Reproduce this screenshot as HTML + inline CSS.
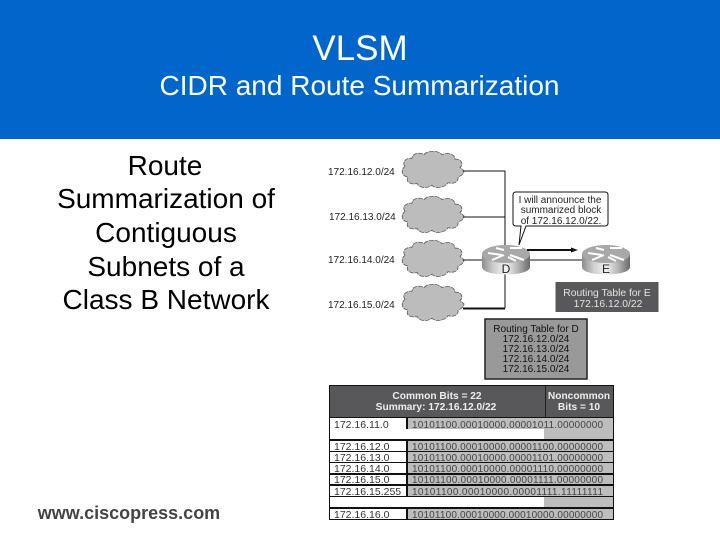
<!DOCTYPE html>
<html><head><meta charset="utf-8"><style>
html,body{margin:0;padding:0;background:#fff}
svg{display:block}
text{font-family:"Liberation Sans",Arial,sans-serif}
</style></head><body>
<svg width="720" height="540" viewBox="0 0 720 540" xmlns="http://www.w3.org/2000/svg">
<defs>
<linearGradient id="rg" x1="0" x2="1" y1="0" y2="0">
<stop offset="0" stop-color="#8d8d8d"/><stop offset=".25" stop-color="#d0d0d0"/><stop offset=".5" stop-color="#f2f2f2"/><stop offset=".75" stop-color="#b5b5b5"/><stop offset="1" stop-color="#6a6a6a"/>
</linearGradient>
<path id="cl" d="M-28,-4 C-32,-10 -25,-14 -21,-13 C-21,-19 -12,-20 -9,-17 C-6,-22 6,-22 9,-17 C14,-20 22,-18 22,-12 C28,-13 31,-6 27,-3 L31,1 C31,5 27,7 25,8 C26,14 19,16 15,14 C12,20 2,21 -1,17 C-6,21 -14,20 -16,15 C-22,17 -28,13 -25,8 C-31,7 -33,0 -28,-4 Z" fill="#bcbcbc" stroke="#555" stroke-width=".8" stroke-dasharray="5 1" transform="scale(1,.9)"/>
<g id="rt">
<path d="M0,9 V22 C0,32 48,32 48,22 V9 Z" fill="url(#rg)"/>
<ellipse cx="24" cy="9" rx="24" ry="9" fill="#a8a8a8"/>
<path d="M6,8 L20,10 M28,3 L40,3 M10,15 L22,10 M28,10 L42,15 M14,3 L22,5 M26,12 L34,16" stroke="#fff" stroke-width="2" fill="none"/>
</g>
</defs>
<rect width="720" height="139" fill="#0066cc"/>
<text x="360" y="60" font-size="35" fill="#fff" text-anchor="middle">VLSM</text>
<text x="359.500" y="95" font-size="28" fill="#fff" text-anchor="middle">CIDR and Route Summarization</text>

<g font-size="28" fill="#000" text-anchor="middle">
<text x="165" y="175">Route</text>
<text x="166" y="208">Summarization of</text>
<text x="166" y="242">Contiguous</text>
<text x="166" y="276">Subnets of a</text>
<text x="166" y="309">Class B Network</text>
</g>
<text x="129" y="519" font-size="18" font-weight="bold" fill="#444" text-anchor="middle">www.ciscopress.com</text>

<g fill="#222" font-size="10">
<text x="328" y="175">172.16.12.0/24</text>
<text x="329" y="220">172.16.13.0/24</text>
<text x="328" y="263">172.16.14.0/24</text>
<text x="328" y="308">172.16.15.0/24</text>
</g>
<use href="#cl" x="433" y="170"/>
<use href="#cl" x="433" y="215"/>
<use href="#cl" x="433" y="259"/>
<use href="#cl" x="433" y="303"/>

<path d="M463,171 H505 V308 M463,217 H505 M463,260 H483 M530,260 H584" stroke="#111" stroke-width="1" fill="none"/>
<path d="M463,308.500 H505" stroke="#111" stroke-width="2" fill="none"/>

<use href="#rt" x="482" y="245"/>
<use href="#rt" x="582" y="245"/>
<text x="506" y="273" font-size="12" fill="#222" text-anchor="middle">D</text>
<text x="606" y="273" font-size="12" fill="#222" text-anchor="middle">E</text>

<path d="M527,250 H573" stroke="#111" stroke-width="2"/>
<path d="M578,250 L571,247.500 V252.500 Z" fill="#111"/>

<path d="M516,192 H605 Q608,192 608,195 V223 Q608,226 605,226 H526 L519,245 L521,226 H516 Q513,226 513,223 V195 Q513,192 516,192 Z" fill="#fff" stroke="#111" stroke-width="1"/>
<g font-size="10" fill="#222" text-anchor="middle">
<text x="560" y="203">I will announce the</text>
<text x="561" y="213">summarized block</text>
<text x="561" y="224">of 172.16.12.0/22.</text>
</g>

<rect x="555.500" y="282" width="103" height="30" fill="#58585a"/>
<g font-size="10.300" fill="#e4e4e4" text-anchor="middle">
<text x="607" y="296">Routing Table for E</text>
<text x="608" y="307">172.16.12.0/22</text>
</g>
<rect x="485" y="319" width="102" height="60" fill="#999" stroke="#222" stroke-width="1.500"/>
<g font-size="10" fill="#111" text-anchor="middle">
<text x="536" y="332">Routing Table for D</text>
<text x="536" y="342">172.16.12.0/24</text>
<text x="536" y="352">172.16.13.0/24</text>
<text x="536" y="362">172.16.14.0/24</text>
<text x="536" y="372">172.16.15.0/24</text>
</g>

<rect x="329" y="385" width="285" height="135" fill="#111"/>
<rect x="330" y="386" width="283" height="31" fill="#58585a"/>
<rect x="545" y="386" width="1" height="31" fill="#222"/>
<g font-size="10.200" font-weight="bold" fill="#eee" text-anchor="middle">
<text x="437" y="399">Common Bits = 22</text>
<text x="436" y="410">Summary: 172.16.12.0/22</text>
<text x="579" y="399">Noncommon</text>
<text x="579" y="410">Bits = 10</text>
</g>
<g fill="#fff">
<rect x="330" y="418" width="76" height="11"/><rect x="330" y="429" width="283" height="10"/>
<rect x="330" y="441" width="76" height="10"/><rect x="330" y="452" width="76" height="10"/>
<rect x="330" y="463" width="76" height="10"/><rect x="330" y="475" width="76" height="9"/>
<rect x="330" y="486" width="76" height="10"/><rect x="330" y="497" width="283" height="10"/>
<rect x="330" y="509" width="76" height="10"/>
</g>
<g fill="#bdbdbd">
<rect x="408" y="418" width="205" height="11"/><rect x="544" y="429" width="69" height="10"/>
<rect x="408" y="441" width="205" height="10"/><rect x="408" y="452" width="205" height="10"/>
<rect x="408" y="463" width="205" height="10"/><rect x="408" y="475" width="205" height="9"/>
<rect x="408" y="486" width="205" height="10"/><rect x="544" y="497" width="69" height="10"/>
<rect x="408" y="509" width="205" height="10"/>
</g>
<g font-size="10.500" fill="#333">
<text x="334" y="428">172.16.11.0</text>
<text x="334" y="450">172.16.12.0</text>
<text x="334" y="461">172.16.13.0</text>
<text x="334" y="472">172.16.14.0</text>
<text x="334" y="483">172.16.15.0</text>
<text x="334" y="495">172.16.15.255</text>
<text x="334" y="518">172.16.16.0</text>
</g>
<g font-size="10" fill="#444">
<text x="412" y="428" textLength="191">10101100.00010000.00001011.00000000</text>
<text x="412" y="450" textLength="191">10101100.00010000.00001100.00000000</text>
<text x="412" y="461" textLength="191">10101100.00010000.00001101.00000000</text>
<text x="412" y="472" textLength="191">10101100.00010000.00001110.00000000</text>
<text x="412" y="483" textLength="191">10101100.00010000.00001111.00000000</text>
<text x="412" y="495" textLength="191">10101100.00010000.00001111.11111111</text>
<text x="412" y="518" textLength="191">10101100.00010000.00010000.00000000</text>
</g>
</svg>
</body></html>
